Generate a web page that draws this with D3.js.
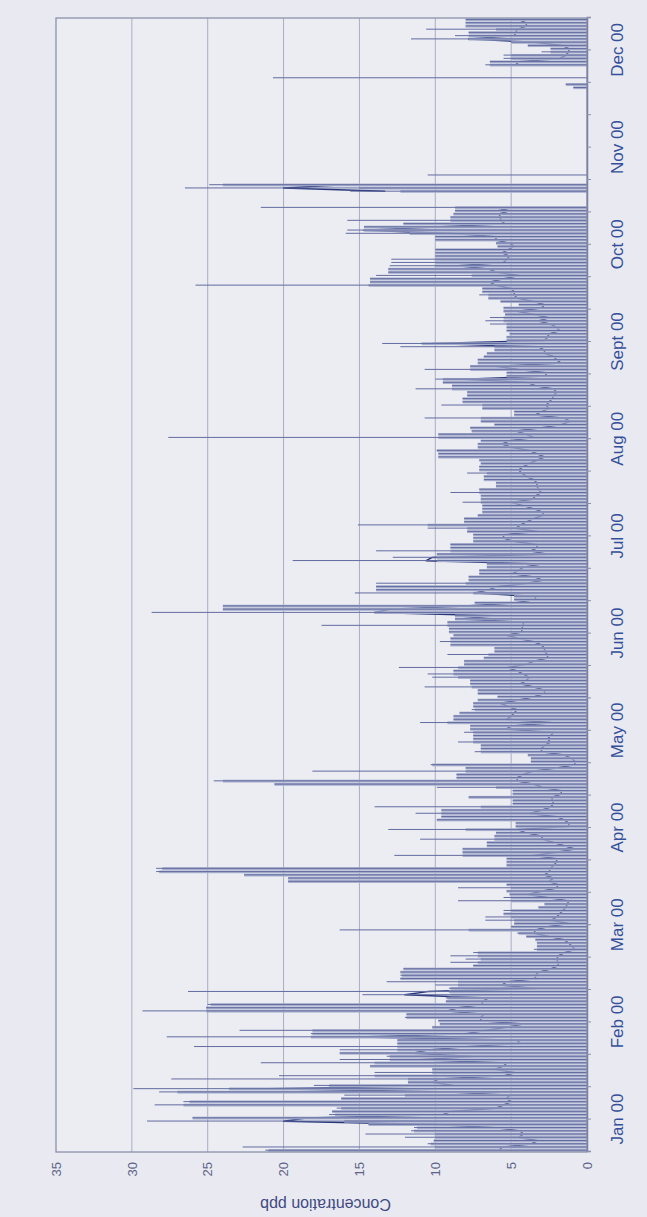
<!DOCTYPE html>
<html><head><meta charset="utf-8">
<script src="https://cdn.jsdelivr.net/npm/d3@7"></script>
<style>html,body{margin:0;padding:0;background:#e9e9f1;} svg{display:block;}</style>
</head><body>
<svg id="chart" width="647" height="1217"></svg>
<script>
// ---------- data (daily, 350 categories starting 1 Jan 2000) ----------
const monthLabels = ["Jan 00","Feb 00","Mar 00","Apr 00","May 00","Jun 00","Jul 00","Aug 00","Sept 00","Oct 00","Nov 00","Dec 00"];
const monthTickDays = [10,40,70,100,130,160,190,220,250,280,310,340];
const dateTicks = [0,10,20,30,40,50,60,70,80,90,100,110,120,130,140,150,160,170,180,190,200,210,220,230,240,250,260,270,280,290,300,310,320,330,340,350];
const valueTicks = [0,5,10,15,20,25,30,35];
const axisTitle = "Concentration ppb";

// daily maximum (dark thin line)
const dayMax = [
 21.2,22.7,10.5,10.1,12.0,14.6,11.6,11.4,14.4,29.0,
 26.0,17.0,16.8,16.5,28.5,26.6,16.2,16.0,28.2,29.9,
 18.0,11.8,27.4,20.3,14.0,10.2,14.3,21.5,16.3,13.2,
 16.3,16.3,25.9,12.5,12.5,27.7,18.2,22.9,10.2,9.7,
 9.8,12.0,11.9,29.3,25.1,25.0,9.3,9.3,14.8,26.3,
 9.1,10.0,13.2,12.3,12.3,12.3,12.1,7.5,9.0,8.0,
 9.0,7.5,3.5,3.3,3.3,3.4,4.0,4.6,16.3,5.0,
 4.8,6.7,6.7,5.5,5.5,3.2,2.8,8.5,5.5,5.1,
 5.3,8.5,5.3,19.7,19.7,22.6,28.4,28.4,5.3,5.3,
 5.3,12.7,8.2,8.2,6.6,6.6,11.0,6.1,6.0,13.1,
 4.7,4.7,9.9,9.6,11.3,9.6,14.0,4.9,4.9,7.8,
 4.9,4.9,9.9,20.6,24.6,8.6,8.6,18.1,8.0,10.3,
 3.7,3.7,3.9,7.4,7.0,7.0,8.5,7.5,7.5,8.1,
 7.7,7.7,11.0,8.8,8.8,8.4,7.6,7.5,7.5,7.2,
 5.9,7.2,7.2,10.7,7.7,7.7,10.2,10.5,8.8,12.4,
 8.1,8.1,6.8,9.2,6.1,6.1,9.0,9.7,9.0,8.8,
 9.1,9.1,17.5,9.2,8.7,8.7,28.7,24.0,24.0,7.4,
 4.8,4.8,15.3,13.9,13.9,13.9,7.8,7.8,7.1,7.1,
 6.6,6.6,19.4,12.8,9.9,13.9,9.0,9.0,7.5,7.5,
 7.5,7.9,10.5,15.1,8.1,8.1,7.2,6.9,6.9,6.9,
 8.2,7.0,7.0,9.0,7.1,6.0,6.0,6.8,6.8,7.9,
 7.1,7.1,7.0,7.1,9.8,9.8,9.9,7.2,7.2,7.0,
 27.6,9.8,7.6,7.7,6.1,7.0,10.7,4.8,4.8,6.9,
 9.6,8.2,8.2,7.9,7.9,11.3,8.9,9.5,10.0,5.3,
 5.3,10.7,7.7,7.2,7.2,6.8,6.6,6.1,12.3,13.5,
 5.3,5.3,5.1,5.3,5.3,6.4,6.7,6.4,5.4,5.5,
 5.5,4.5,5.7,6.5,7.1,6.9,6.9,25.8,14.3,14.3,
 13.9,13.1,13.1,13.0,12.9,12.9,10.0,10.0,10.0,5.9,
 6.0,10.0,10.0,15.9,15.8,14.7,12.1,15.8,9.0,8.8,
 8.7,21.5,null,null,null,null,15.6,26.5,24.9,null,
 null,10.5,null,null,null,null,null,null,null,null,
 null,null,null,null,null,null,null,null,null,null,
 null,null,null,null,null,null,null,null,0.9,1.4,
 null,20.7,null,null,null,6.7,6.4,5.5,5.5,3.0,
 2.4,3.9,5.0,11.6,8.7,7.8,10.6,8.0,8.0,8.0
];

// light bar level
const dayLight = [
 21.0,10.0,10.3,10.1,10.0,10.0,11.4,11.2,14.4,16.0,
 26.0,16.6,16.8,16.2,26.6,26.2,16.2,12.0,27.0,23.6,
 17.0,11.8,11.8,14.0,10.2,10.2,14.3,14.0,13.0,13.0,
 16.3,12.5,12.5,12.5,12.5,18.2,18.1,18.1,10.2,9.7,
 9.8,11.9,11.9,25.1,25.1,24.8,9.3,9.2,9.0,9.1,
 9.0,8.5,8.5,12.3,12.2,12.3,12.1,7.5,7.2,7.0,
 7.2,7.2,3.3,3.3,3.3,3.4,4.0,4.5,7.8,5.0,
 4.8,4.8,5.0,5.5,5.0,3.2,2.8,5.0,5.0,5.1,
 5.3,5.0,5.3,19.7,19.7,22.6,28.2,28.0,5.3,5.3,
 5.3,8.2,8.2,8.2,6.6,6.6,6.1,6.1,6.0,8.0,
 4.7,4.7,9.9,9.6,9.6,9.6,7.0,4.9,4.9,7.8,
 4.9,4.9,6.0,20.6,24.0,8.6,8.6,8.0,8.0,10.2,
 3.7,3.7,3.9,7.0,7.0,7.0,7.5,7.5,7.5,7.5,
 7.7,7.7,9.2,8.8,8.8,8.4,7.4,7.5,7.5,7.2,
 5.9,7.2,7.2,7.6,7.7,7.7,8.5,8.8,8.8,8.5,
 8.1,8.1,6.8,6.5,6.1,6.1,9.0,9.0,9.0,8.8,
 9.1,9.1,9.2,9.2,8.7,8.7,14.0,24.0,24.0,7.4,
 4.8,4.8,7.5,13.9,13.9,8.0,7.8,7.8,7.1,7.1,
 6.6,6.6,9.9,9.9,9.9,9.0,9.0,9.0,7.5,7.5,
 7.5,7.9,7.9,10.5,8.1,8.1,7.2,6.9,6.9,6.9,
 7.0,7.0,7.0,7.1,7.1,6.0,6.0,6.8,6.8,6.6,
 7.1,7.1,7.0,7.1,9.8,9.8,9.9,7.2,7.2,7.0,
 9.8,9.8,7.6,7.7,6.1,7.0,7.0,4.8,4.8,6.9,
 6.9,8.2,8.2,7.9,7.9,8.9,8.9,9.5,9.5,5.3,
 5.3,7.7,7.7,7.2,7.2,6.8,6.6,6.1,6.1,10.9,
 5.3,5.3,5.1,5.3,5.3,5.3,5.5,5.5,5.4,5.5,
 5.5,4.5,5.7,6.5,6.5,6.9,6.9,14.4,14.3,14.3,
 7.6,13.1,13.1,10.0,10.0,10.0,10.0,10.0,10.0,5.9,
 6.0,10.0,10.0,11.7,14.7,14.7,12.1,9.0,9.0,8.8,
 8.7,8.7,null,null,null,null,12.3,15.0,24.0,null,
 null,0,null,null,null,null,null,null,null,null,
 null,null,null,null,null,null,null,null,null,null,
 null,null,null,null,null,null,null,null,0.9,1.4,
 null,0,null,null,null,6.4,6.4,5.0,5.0,2.4,
 2.4,3.9,5.0,7.8,7.8,7.8,6.0,8.0,8.0,8.0
];

// daily mean (dark line behind the bars)
const dayMean = [
 5.8,5.6,3.7,3.2,4.5,4.2,4.4,6.0,10.0,20.0,
 18.5,9.5,9.0,6.0,5.5,5.0,5.3,5.1,9.0,21.0,
 8.8,10.2,9.8,5.5,4.7,6.1,5.5,5.3,11.0,7.5,
 11.5,10.5,8.0,4.4,4.6,15.0,8.0,6.7,5.3,4.2,
 7.0,7.0,6.8,9.2,8.5,6.9,6.9,6.5,12.0,10.5,
 3.4,5.6,5.3,3.4,3.4,3.2,2.4,1.9,1.9,2.0,
 1.9,1.5,0.8,1.0,1.2,1.5,2.5,3.5,3.4,2.6,
 1.2,2.4,2.0,1.8,1.6,1.4,1.3,1.2,2.5,3.9,
 3.0,2.0,1.9,2.5,2.2,2.8,2.5,2.4,2.2,2.0,
 2.0,3.5,2.0,0.8,1.5,2.2,2.9,3.0,4.0,4.6,
 1.2,1.2,1.5,2.0,3.8,3.0,2.4,2.2,2.3,2.3,
 1.7,1.7,2.9,3.5,4.6,4.6,4.2,3.6,2.0,0.8,
 0.8,1.0,1.5,3.0,3.0,2.8,2.4,2.6,2.4,2.2,
 5.3,5.0,2.2,5.3,5.0,4.8,4.6,5.2,5.7,4.5,
 3.5,2.8,2.8,3.5,4.4,4.0,3.8,4.2,4.6,5.3,
 4.0,3.5,2.6,2.6,2.8,2.8,3.0,3.5,4.5,5.3,
 4.3,4.3,4.2,4.2,8.4,6.0,14.0,13.0,8.0,4.7,
 3.4,3.4,7.4,6.5,5.9,4.0,2.9,3.5,4.9,4.5,
 4.2,3.0,10.6,10.2,2.6,3.7,3.3,3.3,4.9,5.5,
 5.5,3.3,4.7,4.4,4.0,3.5,2.9,2.9,3.5,4.2,
 5.0,3.6,3.4,3.0,3.2,3.3,3.3,3.5,4.0,4.3,
 4.5,4.2,3.8,3.3,2.8,3.3,3.8,5.0,5.6,5.1,
 3.5,4.0,4.7,3.0,1.7,1.1,1.5,3.4,3.0,2.5,
 2.7,2.5,2.3,2.2,2.0,2.2,3.4,3.9,8.1,2.7,
 2.7,4.5,6.0,1.7,2.0,2.2,2.8,2.8,3.2,10.2,
 2.8,2.6,2.5,1.8,2.0,2.4,3.2,2.5,3.5,4.6,
 3.0,2.8,3.5,4.6,4.8,4.8,5.0,6.0,6.4,5.5,
 4.5,5.9,6.5,8.5,5.5,5.3,5.1,5.6,5.2,4.8,
 5.1,6.0,6.0,8.8,14.7,10.0,5.4,5.7,5.7,5.8,
 5.1,6.1,null,null,null,null,13.3,20.0,16.0,null,
 null,null,null,null,null,null,null,null,null,null,
 null,null,null,null,null,null,null,null,null,null,
 null,null,null,null,null,null,null,null,null,null,
 null,null,null,null,null,4.7,4.5,1.8,1.4,1.2,
 1.2,1.6,3.5,7.8,4.8,4.7,4.6,4.0,4.0,4.5
];

// ---------- drawing ----------
// The chart is drawn upright in a 1217 x 647 frame, then turned 90deg anticlockwise.
const svg = d3.select('#chart');
svg.append('rect').attr('width',647).attr('height',1217).attr('fill','#e9e9f1');
const g = svg.append('g').attr('transform','translate(0,1217) rotate(-90)');

const nDays = dayMax.length;
const x = d3.scaleLinear().domain([0, 350]).range([65, 1199]);
const y = d3.scaleLinear().domain([0, 35]).range([587, 56]);
const band = x(1) - x(0);

// plot background
g.append('rect').attr('x', x(0)).attr('y', y(35))
  .attr('width', x(350) - x(0)).attr('height', y(0) - y(35))
  .attr('fill', '#ececf3');

// gridlines
g.append('g').selectAll('line').data(valueTicks.filter(v => v > 0 && v < 35)).join('line')
  .attr('x1', x(0)).attr('x2', x(350))
  .attr('y1', d => y(d)).attr('y2', d => y(d))
  .attr('stroke', '#a9adc3').attr('stroke-width', 1);

const idx = d3.range(nDays);

// mean line (behind bars)
const meanLine = d3.line()
  .defined(i => dayMean[i] != null)
  .x(i => x(i + 0.5))
  .y(i => y(dayMean[i]));
g.append('path').datum(idx).attr('d', meanLine)
  .attr('fill', 'none').attr('stroke', '#27367a').attr('stroke-width', 1.5)
  .attr('stroke-linejoin', 'round');

// light bars
g.append('g').selectAll('rect').data(idx.filter(i => dayLight[i] != null && dayLight[i] > 0)).join('rect')
  .attr('x', i => x(i) + 0.15)
  .attr('width', band * 0.86)
  .attr('y', i => y(dayLight[i]))
  .attr('height', i => y(0) - y(dayLight[i]))
  .attr('fill', '#a7aecd');

// dark max lines
g.append('g').selectAll('line').data(idx.filter(i => dayMax[i] != null)).join('line')
  .attr('x1', i => x(i) + band * 0.55).attr('x2', i => x(i) + band * 0.55)
  .attr('y1', y(0)).attr('y2', i => y(dayMax[i]))
  .attr('stroke', '#626c9f').attr('stroke-width', 1.0);

// frame
g.append('rect').attr('x', x(0)).attr('y', y(35))
  .attr('width', x(350) - x(0)).attr('height', y(0) - y(35))
  .attr('fill', 'none').attr('stroke', '#8d92ab').attr('stroke-width', 1.3);

// date axis (value 0 baseline)
const xAxis = d3.axisBottom(x).tickValues(dateTicks).tickSize(4).tickPadding(20)
  .tickFormat(d => { const k = monthTickDays.indexOf(d); return k >= 0 ? monthLabels[k] : ''; });
const gx = g.append('g').attr('transform', `translate(0,${y(0)})`).call(xAxis);
gx.select('.domain').attr('stroke', '#7b819f').attr('stroke-width', 1.5);
gx.selectAll('.tick line').attr('stroke', '#8d92ab');
gx.selectAll('.tick text').attr('fill', '#34509a')
  .style('font-family', '"Liberation Sans", Arial, Helvetica, sans-serif').style('font-size', '17px');

// value axis
const yAxis = d3.axisLeft(y).tickValues(valueTicks).tickSize(0).tickPadding(10);
const gy = g.append('g').attr('transform', `translate(${x(0)},0)`).call(yAxis);
gy.select('.domain').remove();
gy.selectAll('.tick text').attr('fill', '#5d6386')
  .style('font-family', '"Liberation Sans", Arial, Helvetica, sans-serif').style('font-size', '13px');

// axis title
g.append('text').attr('transform', `translate(18,${(y(0) + y(35)) / 2 + 4}) rotate(-90)`)
  .attr('text-anchor', 'middle').attr('fill', '#3f4a82')
  .style('font-family', '"Liberation Sans", Arial, Helvetica, sans-serif').style('font-size', '16px')
  .text(axisTitle);
</script>
</body></html>
